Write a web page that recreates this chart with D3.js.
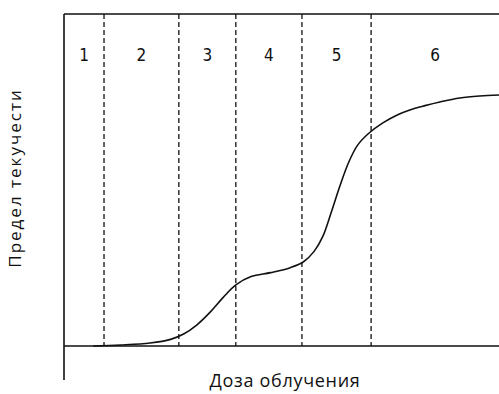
<!DOCTYPE html>
<html>
<head>
<meta charset="utf-8">
<script src="https://cdn.jsdelivr.net/npm/d3@7/dist/d3.min.js"></script>
<style>
  html, body { margin: 0; padding: 0; background: #fff; }
  svg { display: block; }
</style>
</head>
<body>
<svg id="chart" width="499" height="394"></svg>
<script>
// Yield strength vs irradiation dose (relative units)
const doseValues = [6.7, 13, 19.8, 24.5, 27.5, 30.5, 33.6, 36.5, 39.5, 43, 47.5, 52, 55, 57.5, 59.5, 61.5, 63.5, 65.5, 67.5, 70, 73.3, 76.6, 79.5, 83, 86.4, 91, 95.6, 100];
const strengthValues = [0, 0.3, 0.9, 2.0, 3.6, 6.3, 10.2, 14.5, 18.4, 20.9, 22.1, 23.6, 25.3, 28.5, 33, 40.5, 48.5, 55.5, 60.5, 64, 67.2, 69.6, 71.1, 72.4, 73.5, 74.7, 75.3, 75.6];
// Stage boundaries on the dose axis
const stageBounds = [9.2, 26.4, 39.5, 54.7, 70.6];
const stageLabels = ["1", "2", "3", "4", "5", "6"];
const xTitle = "Доза облучения";
const yTitle = "Предел текучести";

const svg = d3.select("#chart");
const plot = { left: 64, right: 499, top: 14, bottom: 346 };

const x = d3.scaleLinear().domain([0, 100]).range([plot.left, plot.right]);
const y = d3.scaleLinear().domain([0, 100]).range([plot.bottom, plot.top]);

const ink = "#111";

// frame: top border, left axis (extended below), bottom axis
svg.append("line").attr("x1", x(0)).attr("x2", x(100)).attr("y1", y(100)).attr("y2", y(100))
  .attr("stroke", ink).attr("stroke-width", 1.5);
svg.append("line").attr("x1", x(0)).attr("x2", x(0)).attr("y1", y(100)).attr("y2", 380)
  .attr("stroke", ink).attr("stroke-width", 1.6);
svg.append("line").attr("x1", x(0)).attr("x2", x(100)).attr("y1", y(0)).attr("y2", y(0))
  .attr("stroke", ink).attr("stroke-width", 1.6);

// dashed stage separators
svg.selectAll("line.stage").data(stageBounds).join("line")
  .attr("class", "stage")
  .attr("x1", d => x(d)).attr("x2", d => x(d))
  .attr("y1", y(100)).attr("y2", y(0))
  .attr("stroke", ink).attr("stroke-width", 1.3)
  .attr("stroke-dasharray", "5,3");

// stage numbers centred in each band
const edges = [0, ...stageBounds, 100];
svg.selectAll("text.stage").data(stageLabels).join("text")
  .attr("class", "stage")
  .attr("x", (d, i) => (x(edges[i]) + x(edges[i + 1])) / 2)
  .attr("y", 61)
  .attr("text-anchor", "middle")
  .attr("font-family", "'Liberation Sans Narrow', 'DejaVu Sans Condensed', sans-serif")
  .attr("font-size", 17)
  .attr("fill", ink)
  .text(d => d);

// yield strength curve
const pts = doseValues.map((d, i) => [d, strengthValues[i]]);
const line = d3.line().x(d => x(d[0])).y(d => y(d[1])).curve(d3.curveCatmullRom.alpha(0.5));
svg.append("path").datum(pts)
  .attr("d", line)
  .attr("fill", "none")
  .attr("stroke", ink)
  .attr("stroke-width", 1.6);

// axis titles
svg.append("text")
  .attr("x", 285).attr("y", 387)
  .attr("text-anchor", "middle")
  .attr("font-family", "'Open Sans', sans-serif")
  .attr("font-size", 18)
  .attr("letter-spacing", 0.7)
  .attr("fill", ink)
  .text(xTitle);

svg.append("text")
  .attr("transform", "translate(21,178) rotate(-90)")
  .attr("text-anchor", "middle")
  .attr("font-family", "'Open Sans', sans-serif")
  .attr("font-size", 17)
  .attr("letter-spacing", 2)
  .attr("fill", ink)
  .text(yTitle);
</script>
</body>
</html>
